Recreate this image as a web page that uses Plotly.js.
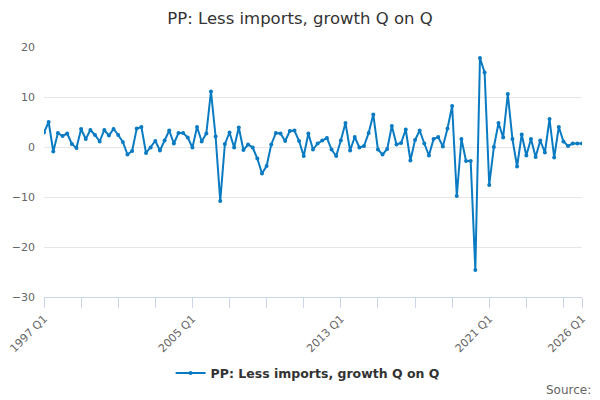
<!DOCTYPE html>
<html>
<head>
<meta charset="utf-8">
<script src="https://cdn.plot.ly/plotly-3.0.1.min.js"></script>
<style>
  html, body { margin: 0; padding: 0; background: #fff; }
  #chart { width: 600px; height: 400px; }
</style>
</head>
<body>
<div id="chart"></div>
<script>
// quarters 1997 Q1 .. 2026 Q1
const firstYear = 1997;
const lastYear = 2026;
const labelYears = ['1997 Q1', '2005 Q1', '2013 Q1', '2021 Q1', '2026 Q1'];

// growth Q on Q, %
const growth = [
  2.9, 5.0, -0.9, 2.8, 2.2, 2.7, 0.6, -0.2, 3.6, 1.6, 3.4, 2.4, 1.1, 3.4, 2.3, 3.6,
  2.4, 1.0, -1.5, -0.8, 3.7, 4.0, -1.2, -0.1, 1.2, -0.7, 1.3, 3.3, 0.7, 2.8, 2.8, 1.9,
  -0.1, 4.0, 1.1, 2.7, 11.1, 2.1, -10.8, 0.6, 2.9, -0.1, 3.9, -0.6, 0.5, -0.1, -2.3, -5.3,
  -3.8, 0.5, 2.8, 2.7, 1.2, 3.2, 3.3, 1.2, -1.8, 2.7, -0.5, 0.7, 1.3, 1.8, -0.5, -1.8,
  1.3, 4.8, -0.7, 2.0, -0.1, 0.2, 2.8, 6.5, -0.5, -1.5, -0.4, 4.2, 0.5, 0.8, 3.5, -2.7,
  1.4, 3.3, 0.7, -1.7, 1.6, 2.0, 0.1, 3.7, 8.2, -9.8, 1.6, -2.8, -2.8, -24.6, 17.8, 14.9,
  -7.6, 0.0, 4.8, 1.9, 10.6, 1.6, -3.9, 2.5, -1.7, 1.6, -2.0, 1.3, -1.1, 5.6, -2.1, 4.0,
  1.1, 0.2, 0.7, 0.7, 0.7
];

let quarters = [];
for (let y = firstYear; y <= lastYear; y++) {
    for (let q = 1; q <= 4; q++) {
        if (y === lastYear && q > 1) break;
        quarters.push(y + ' Q' + q);
    }
}

// tick marks every two years, labels only on some of them
let tickVals = [];
let tickText = [];
for (let i = 0; i < quarters.length; i += 8) {
    tickVals.push(quarters[i]);
    tickText.push(labelYears.includes(quarters[i]) ? quarters[i] : '');
}
tickVals.push(quarters[quarters.length - 1]);
tickText.push(quarters[quarters.length - 1]);

let trace = {
    x: quarters,
    y: growth,
    type: 'scatter',
    mode: 'lines+markers',
    name: 'PP: Less imports, growth Q on Q',
    line: { color: '#0a7bc2', width: 2 },
    marker: { color: '#0a7bc2', size: 4 }
};

let layout = {
    width: 600,
    height: 400,
    font: { family: 'DejaVu Sans, sans-serif', color: '#666' },
    paper_bgcolor: '#fff',
    plot_bgcolor: '#fff',
    margin: { l: 44, r: 18, t: 47, b: 103 },
    title: {
        text: 'PP: Less imports, growth Q on Q',
        font: { size: 16.5, color: '#333' },
        x: 0.5,
        xanchor: 'center',
        y: 0.955,
        yanchor: 'middle'
    },
    xaxis: {
        type: 'category',
        tickmode: 'array',
        tickvals: tickVals,
        ticktext: tickText,
        tickangle: -45,
        ticks: 'outside',
        ticklen: 10,
        tickcolor: '#ccd6eb',
        showline: true,
        linecolor: '#ccd6eb',
        linewidth: 1,
        showgrid: false,
        zeroline: false,
        tickfont: { size: 11, color: '#666' },
        range: [0, quarters.length - 1]
    },
    yaxis: {
        range: [-30, 20],
        dtick: 10,
        tick0: 0,
        showgrid: true,
        gridcolor: '#e6e6e6',
        zeroline: false,
        showline: false,
        ticks: '',
        ticklabelstandoff: 8,
        tickfont: { size: 11, color: '#666' }
    },
    showlegend: true,
    legend: {
        orientation: 'h',
        x: 0.49,
        xanchor: 'center',
        y: -0.305,
        yanchor: 'middle',
        font: { size: 12.5, color: '#333', weight: 'bold' }
    },
    annotations: [{
        text: 'Source:',
        xref: 'paper', yref: 'paper',
        x: 1.02, y: -0.37,
        xanchor: 'right', yanchor: 'middle',
        showarrow: false,
        font: { size: 12, color: '#666' }
    }]
};

Plotly.newPlot('chart', [trace], layout, { displayModeBar: false, staticPlot: true });
</script>
</body>
</html>
